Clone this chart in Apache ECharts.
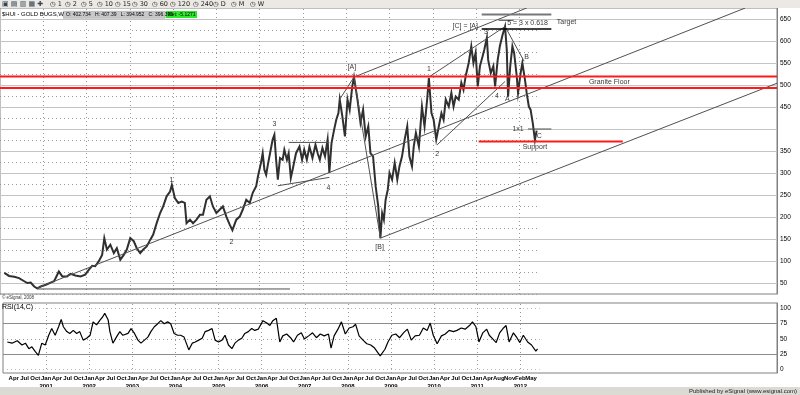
<!DOCTYPE html>
<html><head><meta charset="utf-8">
<script src="https://cdn.jsdelivr.net/npm/echarts@6/dist/echarts.min.js"></script>
<style>html,body{margin:0;padding:0;background:#fff;}#c{width:800px;height:395px;}</style>
</head><body><div id="c"></div>
<script>
// ---- price (weekly closes; x in decimal years) ----
const priceDates = [
2000.10,2000.21,2000.33,2000.44,2000.56,2000.63,2000.71,2000.79,2000.86,2000.94,
2001.06,2001.17,2001.25,2001.36,2001.44,2001.55,2001.63,2001.74,2001.86,2001.97,
2002.05,2002.13,2002.20,2002.28,2002.36,2002.41,2002.47,2002.55,2002.63,2002.70,2002.78,2002.86,2002.93,
2003.01,2003.09,2003.16,2003.24,2003.31,2003.39,2003.47,2003.54,2003.62,2003.70,2003.77,2003.85,2003.93,2003.97,
2004.04,2004.12,2004.20,2004.27,2004.31,2004.39,2004.46,2004.54,2004.62,2004.69,2004.77,2004.85,2004.92,
2005.00,2005.08,2005.15,2005.23,2005.31,2005.37,2005.46,2005.54,2005.61,2005.69,2005.77,2005.84,2005.92,2005.96,
2006.03,2006.07,2006.11,2006.15,2006.19,2006.24,2006.30,2006.34,2006.38,2006.42,2006.47,2006.53,2006.57,2006.63,2006.67,2006.72,2006.76,2006.84,2006.92,2006.98,
2007.03,2007.09,2007.15,2007.22,2007.29,2007.34,2007.39,2007.45,2007.51,2007.57,2007.61,2007.66,2007.72,2007.77,2007.82,2007.85,2007.91,2007.97,
2008.03,2008.08,2008.14,2008.18,2008.26,2008.33,2008.39,2008.45,2008.51,2008.56,2008.62,2008.68,2008.74,2008.79,2008.83,2008.87,2008.91,2008.96,
2009.00,2009.06,2009.12,2009.18,2009.23,2009.29,2009.35,2009.41,2009.46,2009.52,2009.56,2009.61,2009.68,2009.75,2009.81,2009.87,2009.91,2009.97,
2010.02,2010.08,2010.14,2010.20,2010.25,2010.30,2010.37,2010.43,2010.48,2010.53,2010.60,2010.66,2010.71,2010.76,2010.83,2010.89,2010.94,2010.99,
2011.04,2011.09,2011.15,2011.19,2011.25,2011.28,2011.34,2011.40,2011.44,2011.50,2011.55,2011.61,2011.67,2011.71,2011.74,2011.79,2011.84,2011.88,2011.94,2011.97,
2012.03,2012.07,2012.13,2012.17,2012.22,2012.26,2012.31,2012.36,2012.40
];
const priceClose = [
73,66,64,61,54,50,51,42,38,42,
46,51,54,76,65,65,71,67,65,69,
80,89,88,99,114,152,126,137,118,129,103,114,126,
152,145,129,118,126,133,148,160,186,209,224,247,258,273,
243,232,235,232,186,194,186,194,205,205,239,247,224,
209,217,224,201,182,170,194,201,217,239,232,255,270,292,
323,345,307,296,319,345,376,387,330,285,334,330,353,330,345,289,307,345,360,330,
353,330,360,334,364,345,330,357,338,376,300,368,398,421,436,467,429,383,
467,444,497,518,467,414,444,383,406,345,338,270,224,152,209,194,239,262,
300,285,323,285,315,338,376,406,338,315,360,391,360,451,406,467,516,436,
421,376,406,436,421,467,451,482,451,474,467,505,489,520,550,588,550,573,
497,543,565,580,607,557,527,543,497,557,588,613,633,580,474,543,588,573,520,482,
527,550,512,482,451,444,414,375,396.395
];
// ---- RSI(14,C) ----
const rsiDates = [
2000.10,2000.21,2000.33,2000.44,2000.52,2000.60,2000.67,2000.75,2000.82,2000.86,2000.90,2000.98,
2001.06,2001.13,2001.21,2001.29,2001.35,2001.40,2001.48,2001.55,2001.63,2001.71,2001.78,2001.86,2001.94,
2002.02,2002.09,2002.17,2002.25,2002.31,2002.36,2002.44,2002.48,2002.55,2002.63,2002.71,2002.78,2002.90,2002.97,
2003.05,2003.13,2003.20,2003.28,2003.36,2003.43,2003.51,2003.59,2003.66,2003.74,2003.82,2003.89,2003.97,
2004.05,2004.12,2004.20,2004.31,2004.39,2004.46,2004.54,2004.62,2004.69,2004.77,2004.85,2004.92,2005.00,
2005.08,2005.15,2005.23,2005.31,2005.38,2005.46,2005.54,2005.61,2005.69,2005.77,2005.84,2005.92,
2006.03,2006.12,2006.19,2006.26,2006.34,2006.42,2006.49,2006.58,2006.67,2006.74,2006.83,2006.92,2006.99,
2007.09,2007.18,2007.27,2007.36,2007.45,2007.55,2007.61,2007.68,2007.77,2007.85,2007.94,
2008.03,2008.12,2008.18,2008.26,2008.35,2008.44,2008.53,2008.62,2008.69,2008.75,2008.79,2008.86,2008.93,
2009.02,2009.11,2009.20,2009.29,2009.38,2009.47,2009.56,2009.66,2009.75,2009.84,2009.91,2009.98,
2010.07,2010.17,2010.26,2010.35,2010.45,2010.53,2010.63,2010.72,2010.82,2010.89,2010.97,
2011.04,2011.13,2011.22,2011.28,2011.36,2011.44,2011.52,2011.61,2011.67,2011.74,2011.84,2011.92,2011.99,
2012.07,2012.17,2012.26,2012.36,2012.40
];
const rsiValues = [
45,43,47,40,43,34,37,29,23,21,43,40,
56,67,56,70,82,70,62,59,64,59,62,48,51,
56,78,73,81,86,92,81,62,43,53,62,56,59,67,
59,48,43,48,53,62,70,75,80,75,78,75,59,
56,56,53,32,43,45,48,51,62,64,67,48,45,
48,56,40,34,43,48,51,59,62,67,64,66,
80,76,72,80,84,45,55,58,52,45,56,60,50,
55,60,52,58,55,58,35,55,66,78,58,
68,70,74,55,48,42,40,35,28,22,20,33,45,
56,58,52,60,66,48,55,56,68,64,76,56,
42,55,58,64,62,64,68,66,72,78,70,
45,60,66,56,50,44,60,68,72,45,60,52,44,
56,45,40,30,33.51
];
// ---- axis ticks / labels ----
const priceAxisLabels = [50,100,150,200,250,300,350,450,500,550,600,650];
const priceMajorGrid = [50,100,150,200,250,300,350,400,450,500,550,600,650];
const priceMinorGrid = [25,75,125,175,225,275,325,375,425,475,525,575,625];
const yearGrid = [2001,2002,2003,2004,2005,2006,2007,2008,2009,2010,2011,2012];
const rsiAxisLabels = [0,25,50,75,100];
const monthNames = ['Jan','Apr','Jul','Oct'];
const labelOverrides = {'2011.5':'Aug','2011.75':'Nov','2012':'Feb\n2012','2012.25':'May'};
const lastClose = 396.395, lastRsi = 33.51;
// ---- drawn studies (endpoints in [year, price]) ----
const grayLines = [
  [[2000.86, 38.6],[2017.22, 675]],
  [[2008.18, 518],[2012.17, 675]],
  [[2008.79, 152],[2017.954, 504]],
  [[2008.18, 518],[2008.79, 152]],
  [[2007.84, 466],[2008.18, 518]],
  [[2009.91, 518],[2011.67, 633]],
  [[2010.10, 364],[2011.67, 508]],
  [[2011.67, 633],[2012.11, 554]],
  [[2000.86, 36.4],[2006.70, 36.4]],
  [[2006.67, 369.5],[2007.61, 369.5]],
  [[2006.42, 271],[2007.61, 290]],
  [[2012.20, 400],[2012.74, 400]],
  [[2011.52, 647],[2011.87, 647]]
];
const darkLines = [
  [[2011.13, 627],[2012.74, 627]]
];
const targetLines = [
  [[2011.13, 660],[2012.74, 660]]
];
const redLines = [
  [[2000, 519.5],[2017.954, 519.5]],
  [[2000, 493],[2017.954, 493]],
  [[2011.06, 371.6],[2014.39, 371.6]]
];
const notes = [
  ['1',2003.96,283],['2',2005.35,144],['3',2006.34,412],['4',2007.59,266],
  ['[A]',2008.13,541],['[B]',2008.77,132],['1',2009.91,537],['2',2010.10,344],
  ['3',2011.23,620],['[C] = [A]',2010.75,635],['4',2011.48,474],['A',2011.72,469],
  ['B',2012.17,564],['1x1',2011.97,400],['C',2012.46,383],['Support',2012.36,360],
  ['Granite Floor',2014.08,507],['Target',2013.09,643],['5 = 3 x 0.618',2012.19,641]
];

const X_MIN = 2000, X_MAX = 2017.954;
const FONT = 'Liberation Sans, Arial, sans-serif';

function xLabel(v){
  if (v < 2000.2 || v > 2012.3) return '';
  const key = String(Math.round(v*100)/100);
  if (labelOverrides[key]) return labelOverrides[key];
  const yr = Math.floor(v + 1e-6);
  const q = Math.round((v - yr) * 4);
  return q === 0 ? 'Jan\n' + yr : monthNames[q];
}
function seg(a, b, color, width, type){
  return {type:'line', xAxisIndex:0, yAxisIndex:0, data:[a,b], symbol:'none', silent:true,
    lineStyle:{color:color, width:width, type:type||'solid'}, z:4, animation:false, clip:true};
}

const chart = echarts.init(document.getElementById('c'), null, {renderer:'canvas'});
const series = [];
series.push({type:'line', xAxisIndex:0, yAxisIndex:0, data:[], silent:true,
  markLine:{silent:true, symbol:['none','none'], z:1, animation:false, label:{show:false},
    data: [].concat(
      priceMajorGrid.map(v => ({yAxis:v, lineStyle:{color:'#c4c4c4', width:1, type:'solid'}})),
      priceMinorGrid.map(v => [{coord:[X_MIN, v], lineStyle:{color:'#9a9a9a', width:1, type:[1,3]}},{coord:[2012.45, v]}]),
      yearGrid.map(v => ({xAxis:v, lineStyle:{color:'#9a9a9a', width:1, type:[1,3]}}))
    )}
});
series.push({type:'line', name:'HUI', xAxisIndex:0, yAxisIndex:0, symbol:'none', z:3,
  data: priceDates.map((d,i) => [d, priceClose[i]]), lineStyle:{color:'#303030', width:2, join:'miter'},
  animation:false,
  markLine:{silent:true, symbol:['none','none'], animation:false,
    data:[{yAxis:lastClose, lineStyle:{opacity:0},
      label:{show:true, position:'end', distance:2, formatter:String(lastClose), color:'#fff',
        backgroundColor:'#000', padding:[1,1,0,1], fontSize:7, fontFamily:FONT}}]}
});
grayLines.forEach(l => series.push(seg(l[0], l[1], '#505050', 1)));
darkLines.forEach(l => series.push(seg(l[0], l[1], '#000', 1.5)));
targetLines.forEach(l => series.push(seg(l[0], l[1], '#777', 2)));
redLines.forEach(l => series.push(seg(l[0], l[1], '#ff1a1a', 2)));
series.push({type:'scatter', xAxisIndex:0, yAxisIndex:0, symbolSize:1, itemStyle:{color:'rgba(0,0,0,0)'}, silent:true, z:6,
  data: notes.map(n => ({name:n[0], value:[n[1], n[2]]})), animation:false,
  label:{show:true, position:'inside', formatter:p => p.name, color:'#000', fontSize:7, fontFamily:FONT}
});
series.push({type:'line', xAxisIndex:1, yAxisIndex:1, data:[], silent:true,
  markLine:{silent:true, symbol:['none','none'], z:1, animation:false, label:{show:false},
    data: [
      {yAxis:75, lineStyle:{color:'#8c8c8c', width:1, type:'solid'}},
      {yAxis:25, lineStyle:{color:'#8c8c8c', width:1, type:'solid'}},
      [{coord:[X_MIN, 50], lineStyle:{color:'#9a9a9a', width:1, type:[1,3]}},{coord:[2012.45, 50]}],
      [{coord:[X_MIN, 100], lineStyle:{color:'#bbb', width:1, type:[1,3]}},{coord:[2012.45, 100]}],
      [{coord:[X_MIN, 0], lineStyle:{color:'#bbb', width:1, type:[1,3]}},{coord:[2012.45, 0]}]
    ].concat(yearGrid.map(v => ({xAxis:v, lineStyle:{color:'#9a9a9a', width:1, type:[1,3]}})))}
});
series.push({type:'line', name:'RSI', xAxisIndex:1, yAxisIndex:1, symbol:'none', z:3,
  data: rsiDates.map((d,i) => [d, rsiValues[i]]), lineStyle:{color:'#000', width:1.2}, animation:false,
  markLine:{silent:true, symbol:['none','none'], animation:false,
    data:[{yAxis:lastRsi, lineStyle:{opacity:0},
      label:{show:true, position:'end', distance:2, formatter:String(lastRsi), color:'#fff',
        backgroundColor:'#000', padding:[1,1,0,1], fontSize:7, fontFamily:FONT}}]}
});

const toolbarItems = ['1','2','5','10','15','30','60','120','240','D','M','W'];
const toolbarX = [50,65,81,97,115,132,152,170,193,213,231,250];
const graphic = [
  {type:'rect', left:0, top:0, shape:{width:800, height:8}, style:{fill:'#ece9e4'}, z:100},
  {type:'rect', left:0, top:387, shape:{width:800, height:8}, style:{fill:'#dcdad5'}, z:100},
  {type:'text', right:3, top:388.5, style:{text:'Published by eSignal (www.esignal.com)', fontSize:6, fontFamily:FONT, fill:'#222'}, z:101},
  {type:'text', left:2, top:11.5, style:{text:'$HUI - GOLD BUGS,W', fontSize:6, fontFamily:FONT, fill:'#000'}, z:101},
  {type:'rect', left:63, top:11, shape:{width:102, height:7}, style:{fill:'#c8c8c8', stroke:'#999', lineWidth:0.5}, z:100},
  {type:'text', left:66, top:12, style:{text:'O: 402.734   H: 407.39   L: 394.952   C: 396.395', fontSize:5, fontFamily:FONT, fill:'#000'}, z:101},
  {type:'rect', left:166, top:11, shape:{width:31, height:7}, style:{fill:'#2ee82e'}, z:100},
  {type:'text', left:168, top:12, style:{text:'Net: -5.1271', fontSize:5, fontFamily:FONT, fill:'#000'}, z:101},
  {type:'text', left:2, top:295.5, style:{text:'© eSignal, 2008', fontSize:4.5, fontFamily:FONT, fill:'#333'}, z:101},
  {type:'text', left:2, top:304, style:{text:'RSI(14,C)', fontSize:7, fontFamily:FONT, fill:'#000'}, z:101},
  {type:'text', left:2, top:0.5, style:{text:'▣ ▤ ▥ ▦ ✚', fontSize:7, fontFamily:'DejaVu Sans', fill:'#345'}, z:101}
];
toolbarItems.forEach((t,i) => graphic.push({type:'text', left:toolbarX[i], top:0.5,
  style:{text:'◷ ' + t, fontSize:6.5, fontFamily:'DejaVu Sans', fill:'#222'}, z:101}));

chart.setOption({
  animation:false,
  backgroundColor:'#ffffff',
  grid:[
    {left:-4, right:23, top:8, bottom:101, show:true, borderColor:'#808080', borderWidth:1, backgroundColor:'transparent'},
    {left:-4, right:23, top:303, bottom:22, show:true, borderColor:'#808080', borderWidth:1, backgroundColor:'transparent'}
  ],
  xAxis:[
    {type:'value', gridIndex:0, min:X_MIN, max:X_MAX, interval:0.25, axisLabel:{show:false}, axisTick:{show:false}, axisLine:{show:false}, splitLine:{show:false}},
    {type:'value', gridIndex:1, min:X_MIN, max:X_MAX, interval:0.25, axisTick:{show:false}, axisLine:{show:false}, splitLine:{show:false},
      axisLabel:{show:true, formatter:xLabel, fontSize:6, fontWeight:'bold', fontFamily:FONT, color:'#000', margin:1, lineHeight:8, hideOverlap:false, showMinLabel:true, showMaxLabel:true}}
  ],
  yAxis:[
    {type:'value', gridIndex:0, position:'right', min:25, max:675, interval:25, splitLine:{show:false}, axisTick:{show:false},
      axisLine:{show:true, lineStyle:{color:'#808080'}},
      axisLabel:{fontSize:6.5, fontFamily:FONT, color:'#000', margin:3, formatter:v => priceAxisLabels.indexOf(v) >= 0 ? String(v) : ''}},
    {type:'value', gridIndex:1, position:'right', min:-6, max:109, interval:1, splitLine:{show:false}, axisTick:{show:false},
      axisLine:{show:true, lineStyle:{color:'#808080'}},
      axisLabel:{fontSize:6.5, fontFamily:FONT, color:'#000', margin:3, formatter:v => rsiAxisLabels.indexOf(v) >= 0 ? String(v) : ''}}
  ],
  series: series,
  graphic: graphic
});
</script></body></html>
